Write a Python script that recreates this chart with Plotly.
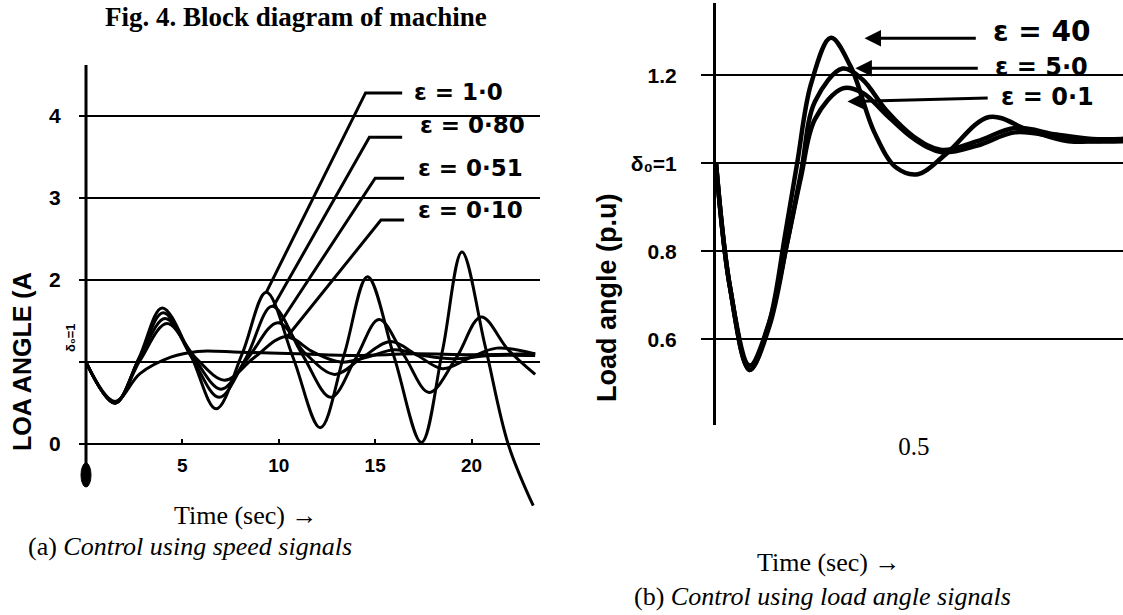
import plotly.graph_objects as go

W, H = 1123, 615

# ---------------- Panel (a): control using speed signals ----------------
t_a_e10 = [0, 1.5, 2.75, 3.95, 5.4, 6.75, 8.1, 9.35, 10.75, 12.15, 13.4, 14.6, 16.0, 17.4, 18.5, 19.5, 20.7, 21.9, 23.2]
v_a_e10 = [1.0, 0.5, 1.05, 1.66, 1.1, 0.43, 1.1, 1.85, 1.05, 0.2, 1.1, 2.04, 1.05, 0.02, 1.15, 2.34, 1.2, 0.0, -0.75]

t_a_e08 = [0, 1.5, 2.75, 4.0, 5.5, 6.9, 8.3, 9.65, 11.2, 12.7, 14.0, 15.2, 16.5, 17.8, 19.2, 20.5, 21.9, 23.3]
v_a_e08 = [1.0, 0.5, 1.04, 1.6, 1.05, 0.57, 1.05, 1.68, 1.1, 0.57, 1.05, 1.52, 1.08, 0.63, 1.05, 1.55, 1.15, 0.85]

t_a_e051 = [0, 1.5, 2.75, 4.1, 5.6, 7.0, 8.4, 9.95, 11.4, 12.9, 14.3, 15.8, 17.2, 18.5, 19.9, 21.3, 23.3]
v_a_e051 = [1.0, 0.5, 1.03, 1.53, 1.05, 0.67, 1.05, 1.48, 1.1, 0.85, 1.05, 1.25, 1.08, 0.92, 1.05, 1.17, 1.1]

t_a_e010 = [0, 1.5, 2.8, 4.2, 5.7, 7.2, 8.7, 10.35, 11.8, 13.2, 14.6, 16.0, 17.5, 19.0, 21.0, 23.3]
v_a_e010 = [1.0, 0.5, 1.02, 1.47, 1.05, 0.78, 1.05, 1.31, 1.12, 1.0, 1.06, 1.15, 1.08, 1.04, 1.08, 1.08]

t_a_flat = [0, 1.5, 2.8, 4.4, 5.8, 8.0, 11.0, 14.0, 17.0, 20.0, 23.3]
v_a_flat = [1.0, 0.52, 0.86, 1.06, 1.13, 1.12, 1.1, 1.08, 1.1, 1.09, 1.1]

a_yticks = [0, 1, 2, 3, 4]
a_yticktext = ["0", "", "2", "3", "4"]
a_xticks = [5, 10, 15, 20]
a_xticktext = ["5", "10", "15", "20"]

# leader lines (curve point -> bend -> horizontal end) and labels for panel (a)
a_labels = ["ε = 1·0", "ε = 0·80", "ε = 0·51", "ε = 0·10"]
a_leader_t = [[9.35, 14.5, 16.4], [9.7, 14.7, 16.4], [10.05, 15.0, 16.5], [10.4, 15.3, 16.5]]
a_leader_v = [[1.85, 4.28, 4.28], [1.67, 3.74, 3.74], [1.47, 3.24, 3.24], [1.3, 2.73, 2.73]]
a_label_t = [16.9, 17.2, 17.1, 17.1]
a_label_v = [4.29, 3.89, 3.37, 2.85]

# ---------------- Panel (b): control using load angle signals ----------------
t_b_e40 = [0, 0.035, 0.085, 0.135, 0.175, 0.205, 0.24, 0.29, 0.34, 0.40, 0.455, 0.51, 0.58, 0.69, 0.79, 0.89, 1.03]
v_b_e40 = [1.0, 0.72, 0.53, 0.64, 0.84, 1.0, 1.18, 1.285, 1.22, 1.07, 0.99, 0.975, 1.02, 1.105, 1.075, 1.05, 1.055]

t_b_e5 = [0, 0.035, 0.085, 0.135, 0.18, 0.215, 0.25, 0.32, 0.37, 0.43, 0.5, 0.57, 0.66, 0.755, 0.86, 0.95, 1.03]
v_b_e5 = [1.0, 0.72, 0.53, 0.63, 0.82, 0.98, 1.14, 1.215, 1.19, 1.12, 1.06, 1.03, 1.05, 1.08, 1.065, 1.055, 1.055]

t_b_e01 = [0, 0.035, 0.085, 0.135, 0.18, 0.215, 0.25, 0.32, 0.37, 0.43, 0.5, 0.57, 0.66, 0.755, 0.86, 0.95, 1.03]
v_b_e01 = [1.0, 0.72, 0.54, 0.64, 0.82, 0.97, 1.1, 1.17, 1.16, 1.11, 1.055, 1.025, 1.04, 1.07, 1.06, 1.05, 1.05]

b_yticks = [0.6, 0.8, 1.0, 1.2]
b_yticktext = ["0.6", "0.8", "δ₀=1", "1.2"]
b_xticks = [0.5]
b_xticktext = ["0.5"]

b_labels = ["ε = 40", "ε = 5·0", "ε = 0·1"]
b_label_size = [28, 24, 24]
b_arrow_head_t = [0.375, 0.352, 0.332]
b_arrow_head_v = [1.284, 1.216, 1.14]
b_arrow_tail_t = [0.66, 0.665, 0.69]
b_arrow_tail_v = [1.284, 1.216, 1.148]
b_label_t = [0.695, 0.70, 0.715]
b_label_v = [1.30, 1.218, 1.15]

# ---------------- layout geometry (pixels -> paper) ----------------
def px_x(p):
    return p / W

def px_y(p):
    return 1 - p / H

A_X0, A_X1, A_Y0, A_Y1 = 86, 540, 65, 518      # left plot area (px)
A_XR = [0, 23.55]
A_YR = [-0.9, 4.62]
B_X0, B_Y0, B_Y1 = 716, 3, 425                   # right plot area (px)
B_XR = [0, 1.028]
B_YR = [0.405, 1.364]

a_dom_y = [px_y(A_Y1), px_y(A_Y0)]
zero_pos = a_dom_y[0] + (0 - A_YR[0]) / (A_YR[1] - A_YR[0]) * (a_dom_y[1] - a_dom_y[0])

fig = go.Figure()

line_a = dict(color="black", width=3, shape="spline", smoothing=1.0)
for tt, vv in [(t_a_flat, v_a_flat), (t_a_e010, v_a_e010), (t_a_e051, v_a_e051),
               (t_a_e08, v_a_e08), (t_a_e10, v_a_e10)]:
    fig.add_trace(go.Scatter(x=tt, y=vv, mode="lines", line=line_a,
                             xaxis="x", yaxis="y", showlegend=False, hoverinfo="skip"))

for lt, lv in zip(a_leader_t, a_leader_v):
    fig.add_trace(go.Scatter(x=lt, y=lv, mode="lines", line=dict(color="black", width=3),
                             xaxis="x", yaxis="y", showlegend=False, hoverinfo="skip"))

line_b = dict(color="black", width=4.5, shape="spline", smoothing=1.0)
for tt, vv in [(t_b_e01, v_b_e01), (t_b_e5, v_b_e5), (t_b_e40, v_b_e40)]:
    fig.add_trace(go.Scatter(x=tt, y=vv, mode="lines", line=line_b,
                             xaxis="x2", yaxis="y2", showlegend=False, hoverinfo="skip"))

sans = "Liberation Sans, Arial, sans-serif"
serif = "Liberation Serif, Times New Roman, serif"
tick_font = dict(family=sans, size=21, color="black", weight=700)

fig.update_layout(
    width=W, height=H, autosize=False,
    margin=dict(l=0, r=0, t=0, b=0),
    paper_bgcolor="white", plot_bgcolor="white",
    xaxis=dict(domain=[px_x(A_X0), px_x(A_X1)], range=A_XR, anchor="free", position=zero_pos,
               showgrid=False, zeroline=False, showline=False,
               tickmode="array", tickvals=a_xticks, ticktext=a_xticktext,
               ticks="inside", ticklen=5, tickwidth=2, tickcolor="black",
               tickfont=dict(family=sans, size=19, color="black", weight=700),
               ticklabelstandoff=8),
    yaxis=dict(domain=a_dom_y, range=A_YR, anchor="x",
               showgrid=True, gridcolor="black", gridwidth=2, zeroline=False, showline=False,
               tickmode="array", tickvals=a_yticks, ticktext=a_yticktext,
               ticks="outside", ticklen=6, tickwidth=2, tickcolor="black",
               tickfont=tick_font, ticklabelstandoff=14),
    xaxis2=dict(domain=[px_x(B_X0), 1.0], range=B_XR, anchor="y2",
                showgrid=False, zeroline=False, showline=False,
                tickmode="array", tickvals=b_xticks, ticktext=b_xticktext, ticks="",
                tickfont=dict(family=serif, size=25, color="black"),
                ticklabelstandoff=4),
    yaxis2=dict(domain=[px_y(B_Y1), px_y(B_Y0)], range=B_YR, anchor="x2",
                showgrid=True, gridcolor="black", gridwidth=2, zeroline=False,
                showline=True, linecolor="black", linewidth=3,
                tickmode="array", tickvals=b_yticks, ticktext=b_yticktext,
                ticks="outside", ticklen=12, tickwidth=2, tickcolor="black",
                tickfont=tick_font, ticklabelstandoff=20),
)

# left y-axis line and the blob at its foot (paper coordinates, so not clipped)
fig.add_shape(type="line", xref="paper", yref="paper", x0=px_x(86), x1=px_x(86),
              y0=px_y(484), y1=px_y(A_Y0), line=dict(color="black", width=3))
fig.add_shape(type="circle", xref="paper", yref="paper", x0=px_x(81), x1=px_x(91),
              y0=px_y(487), y1=px_y(463), fillcolor="black", line=dict(color="black", width=1))

hand_font = dict(family="DejaVu Sans, sans-serif", color="black", weight=700)

annotations = []
for lab, lt, lv in zip(a_labels, a_label_t, a_label_v):
    annotations.append(dict(x=lt, y=lv, xref="x", yref="y", text=lab, showarrow=False,
                            xanchor="left", yanchor="middle", font=dict(size=23, **hand_font)))

for lab, sz, ht, hv, tt, tv, lt, lv in zip(b_labels, b_label_size, b_arrow_head_t, b_arrow_head_v,
                                             b_arrow_tail_t, b_arrow_tail_v, b_label_t, b_label_v):
    annotations.append(dict(x=ht, y=hv, xref="x2", yref="y2", ax=tt, ay=tv, axref="x2", ayref="y2",
                            text="", showarrow=True, arrowhead=2, arrowsize=1.1, arrowwidth=3,
                            arrowcolor="black"))
    annotations.append(dict(x=lt, y=lv, xref="x2", yref="y2", text=lab, showarrow=False,
                            xanchor="left", yanchor="middle", font=dict(size=sz, **hand_font)))

annotations += [
    # figure caption at the top (cut in the scan)
    dict(x=px_x(103), y=1.0, xref="paper", yref="paper", xanchor="left", yanchor="top",
         text="<b>Fig. 4. Block diagram of machine</b>", showarrow=False,
         font=dict(family=serif, size=27, color="black")),
    # axis titles
    dict(x=px_x(22), y=px_y(362), xref="paper", yref="paper", xanchor="center", yanchor="middle",
         text="LOA ANGLE (A", textangle=-90, showarrow=False,
         font=dict(family=sans, size=25, color="black", weight=700)),
    dict(x=px_x(70), y=px_y(338), xref="paper", yref="paper", xanchor="center", yanchor="middle",
         text="δ₀=1", textangle=-90, showarrow=False,
         font=dict(family=sans, size=13, color="black", weight=700)),
    dict(x=px_x(607), y=px_y(298), xref="paper", yref="paper", xanchor="center", yanchor="middle",
         text="Load angle (p.u)", textangle=-90, showarrow=False,
         font=dict(family=sans, size=27, color="black", weight=700)),
    # captions
    dict(x=px_x(245), y=px_y(515), xref="paper", yref="paper", xanchor="center", yanchor="middle",
         text="Time (sec) →", showarrow=False, font=dict(family=serif, size=26, color="black")),
    dict(x=px_x(190), y=px_y(546), xref="paper", yref="paper", xanchor="center", yanchor="middle",
         text="(a) <i>Control using speed signals</i>",
         showarrow=False, font=dict(family=serif, size=26, color="black")),
    dict(x=px_x(828), y=px_y(562), xref="paper", yref="paper", xanchor="center", yanchor="middle",
         text="Time (sec) →", showarrow=False, font=dict(family=serif, size=26, color="black")),
    dict(x=px_x(822), y=px_y(596), xref="paper", yref="paper", xanchor="center", yanchor="middle",
         text="(b) <i>Control using load angle signals</i>",
         showarrow=False, font=dict(family=serif, size=26, color="black")),
]
fig.update_layout(annotations=annotations)

fig.write_html("out.html")
